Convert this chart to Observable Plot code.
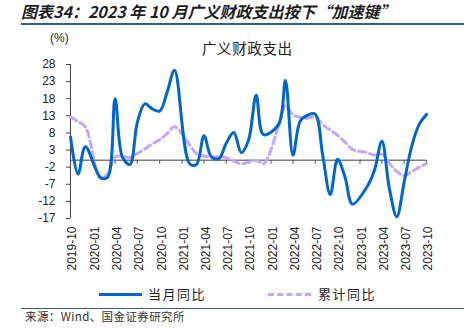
<!DOCTYPE html>
<html><head><meta charset="utf-8">
<script src="https://cdn.jsdelivr.net/npm/d3@7"></script>
<script src="https://cdn.jsdelivr.net/npm/@observablehq/plot@0.6"></script>
<style>
body{margin:0;background:#fff;width:464px;height:332px;position:relative;overflow:hidden;font-family:"Noto Sans CJK SC",sans-serif;color:#222}
.abs{position:absolute;white-space:nowrap}
#title{left:21px;top:2px;font-size:16px;line-height:18px;font-weight:bold;font-style:italic;color:#1e1e1e}
#rule1{left:21px;right:0;top:23px;height:2px;background:#2f5f80}
#rule2{left:21px;right:0;top:307.5px;height:1.5px;background:#2f5f80}
#unit{left:50px;top:31px;font-family:"Liberation Sans",Arial,sans-serif;font-size:12px;line-height:14px;color:#222}
#ctitle{left:202px;top:40px;font-size:14.5px;line-height:16px;letter-spacing:0.6px;color:#222}
#chart{left:0;top:24px}
.lg{font-size:13px;line-height:14px;top:287px;letter-spacing:1.5px;color:#222}
.sw{top:292.5px;height:0;width:43px}
#source{left:25px;top:310px;font-size:11.5px;line-height:13px;color:#333;letter-spacing:0.4px}
</style></head><body>
<div id="chart" class="abs"></div>
<div id="title" class="abs">图表34：2023 年 10 月广义财政支出按下“加速键”</div>
<div id="rule1" class="abs"></div>
<div id="unit" class="abs">(%)</div>
<div id="ctitle" class="abs">广义财政支出</div>
<div class="abs sw" style="left:99px;border-top:3px solid #0066cc"></div>
<div class="abs lg" style="left:148px">当月同比</div>
<div class="abs sw" style="left:268px;border-top:3px dashed #c6a6ff"></div>
<div class="abs lg" style="left:318px">累计同比</div>
<div id="rule2" class="abs"></div>
<div id="source" class="abs">来源：Wind、国金证券研究所</div>
<script>
// Months (January figures are reported together with February, so there is no January point)
const months = [
  "2019-10","2019-11","2019-12",
  "2020-02","2020-03","2020-04","2020-05","2020-06","2020-07","2020-08","2020-09","2020-10","2020-11","2020-12",
  "2021-02","2021-03","2021-04","2021-05","2021-06","2021-07","2021-08","2021-09","2021-10","2021-11","2021-12",
  "2022-02","2022-03","2022-04","2022-05","2022-06","2022-07","2022-08","2022-09","2022-10","2022-11","2022-12",
  "2023-02","2023-03","2023-04","2023-05","2023-06","2023-07","2023-08","2023-09","2023-10"
];
// 当月同比 (%)
const monthlyYoY = [
  6.8, -4, 4,
  -5, -5, 18, 1, -1.2, 11, 16.5, 15, 14.4, 20, 26.3,
  -1, -1.2, 7.2, 1, 0.5, 5, 8.1, 2.2, 6, 19, 7.5,
  10.5, 23.3, 1.5, 11.5, 13.2, 13.5, 1.5, -10, 0.3, -5, -12.8,
  -7.5, -3, 5.6, -8, -16.5, -6.5, 4, 10.5, 13.4
];
// 累计同比 (%)
const cumulativeYoY = [
  12.7, 11.3, 9.8,
  -5.3, -4, 1.0, 1.2, 0.8, 2, 3.3, 4.8, 6, 7.8, 9.8,
  4.5, 2, 1.2, 1, 1, 0.8, -0.3, -1, -0.5, 0, -1,
  10, 16, 13.3, 12.5, 12.3, 12.7, 10.5, 8.8, 7.3, 5.3, 3.2,
  2.2, 1.5, 1.8, -0.8, -3.2, -4.5, -3.3, -2, -1
];
const xTickLabels = ["2019-10","2020-01","2020-04","2020-07","2020-10","2021-01","2021-04","2021-07","2021-10","2022-01","2022-04","2022-07","2022-10","2023-01","2023-04","2023-07","2023-10"];
const yTicks = [-17,-12,-7,-2,3,8,13,18,23,28];

const parse = d3.utcParse("%Y-%m");
const fmt = d3.utcFormat("%Y-%m");
const data = months.map((m,i)=>({date: parse(m), m: monthlyYoY[i], c: cumulativeYoY[i]}));
const tickDates = xTickLabels.map(parse);

const W = 464, H = 260, mT = 40, mB = 66, mL = 70, mR = 38;
const innerH = H - mT - mB;
const yDom = [yTicks[0], yTicks[yTicks.length-1]];
const tickLen = 4 * (yDom[1]-yDom[0]) / innerH; // 4px tick in data units

const chart = Plot.plot({
  width: W, height: H,
  marginTop: mT, marginBottom: mB, marginLeft: mL, marginRight: mR,
  style: {fontFamily: "'Liberation Sans', Arial, sans-serif", fontSize: "12px", color: "#222", background: "transparent"},
  x: {type: "utc", domain: [tickDates[0], tickDates[tickDates.length-1]]},
  y: {domain: yDom},
  marks: [
    Plot.ruleY([0], {stroke: "#7f7f7f", strokeWidth: 1.5}),
    Plot.ruleX(tickDates, {x: d=>d, y1: 0, y2: -tickLen, stroke: "#555", strokeWidth: 1}),
    Plot.ruleX([tickDates[0]], {stroke: "#444", strokeWidth: 1}),
    Plot.axisY({ticks: yTicks, tickSize: 4, tickPadding: 11, stroke: "#444", fontSize: 12, label: null, tickFormat: d=>String(d)}),
    Plot.axisX({ticks: tickDates, tickSize: 0, tickPadding: 8, tickRotate: -90, tickFormat: fmt, fontSize: 12, label: null, dx: 2}),
    Plot.line(data, {x: "date", y: "c", curve: "catmull-rom", stroke: "#c6a6ff", strokeWidth: 3, strokeDasharray: "7,4"}),
    Plot.line(data, {x: "date", y: "m", curve: "catmull-rom", stroke: "#0066cc", strokeWidth: 3})
  ]
});
document.getElementById("chart").appendChild(chart);
</script>
</body></html>
